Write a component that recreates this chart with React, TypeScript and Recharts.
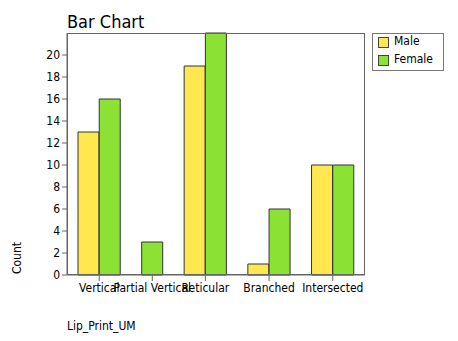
import React from 'react';
import { BarChart, Bar, XAxis, YAxis, Cell } from 'recharts';

const categories = ['Vertical', 'Partial Vertical', 'Reticular', 'Branched', 'Intersected'];
const maleCounts = [13, 0, 19, 1, 10];
const femaleCounts = [16, 3, 22, 6, 10];
const yTicks = [0, 2, 4, 6, 8, 10, 12, 14, 16, 18, 20];

const MALE_COLOR = '#ffe84f';
const FEMALE_COLOR = '#8ce234';
const FONT = '"DejaVu Sans Condensed", "DejaVu Sans", sans-serif';

// plot frame
const PLOT_LEFT = 67;
const PLOT_TOP = 33;
const PLOT_W = 298;
const PLOT_H = 242;
const X_PAD = 11;

type Slot = { key: string; value: number | null; sex: 'Male' | 'Female' | null; label?: string; bars?: number };

// one slot per drawn bar, an empty slot between groups (zero bars are left out, like the original)
const slots: Slot[] = [];
categories.forEach((cat, i) => {
  if (i > 0) slots.push({ key: `gap${i}`, value: null, sex: null });
  const groupBars: Slot[] = [];
  if (maleCounts[i] > 0) groupBars.push({ key: `${cat}-M`, value: maleCounts[i], sex: 'Male' });
  if (femaleCounts[i] > 0) groupBars.push({ key: `${cat}-F`, value: femaleCounts[i], sex: 'Female' });
  groupBars[0].label = cat;
  groupBars[0].bars = groupBars.length;
  slots.push(...groupBars);
});

const labelSlots = slots.filter((s) => s.label).map((s) => s.key);
const slotWidth = (PLOT_W - 2 * X_PAD) / slots.length;

const GroupTick = (props: any) => {
  const { x, y, payload } = props;
  const slot = slots.find((s) => s.key === payload.value);
  if (!slot || !slot.label) return null;
  const cx = slot.bars === 2 ? x + slotWidth / 2 : x;
  return (
    <g>
      <line x1={cx} x2={cx} y1={y} y2={y + 6} stroke="#666" />
      <text
        x={cx}
        y={y + 17}
        textAnchor="middle"
        fontSize={12}
        fontFamily={FONT}
        style={{ fontStretch: 'condensed' }}
        fill="#000"
      >
        {slot.label}
      </text>
    </g>
  );
};

const LegendBox = () => (
  <div
    style={{
      position: 'absolute',
      left: 372,
      top: 33,
      border: '1px solid #777',
      width: 72,
      height: 38,
      boxSizing: 'border-box',
      fontSize: 12,
      padding: '0 0 0 5px',
      background: '#fff',
    }}
  >
    <div style={{ marginTop: -2 }}>
      {[
        { label: 'Male', color: MALE_COLOR },
        { label: 'Female', color: FEMALE_COLOR },
      ].map((item) => (
        <div key={item.label} style={{ display: 'flex', alignItems: 'center', height: 18 }}>
          <span
            style={{
              display: 'inline-block',
              width: 9,
              height: 9,
              background: item.color,
              border: '1px solid #444',
              marginRight: 5,
              marginTop: 3,
            }}
          />
          <span>{item.label}</span>
        </div>
      ))}
    </div>
  </div>
);

const App: React.FC = () => {
  return (
    <div
      style={{
        position: 'absolute',
        left: 0,
        top: 0,
        width: 458,
        height: 341,
        fontFamily: FONT,
        fontStretch: 'condensed',
      }}
    >
      <div style={{ position: 'absolute', left: 67, top: 11, fontSize: 18, color: '#000' }}>Bar Chart</div>
      <div
        style={{
          position: 'absolute',
          left: 17,
          top: 258,
          fontSize: 12,
          transform: 'translate(-50%, -50%) rotate(-90deg)',
          color: '#000',
        }}
      >
        Count
      </div>
      <div style={{ position: 'absolute', left: 67, top: 319, fontSize: 12, color: '#000' }}>Lip_Print_UM</div>
      <BarChart
        width={458}
        height={341}
        data={slots}
        margin={{ top: PLOT_TOP, right: 458 - PLOT_LEFT - PLOT_W, bottom: 0, left: 0 }}
        barCategoryGap={0}
        barGap={0}
      >
        <XAxis
          dataKey="key"
          ticks={labelSlots}
          interval={0}
          height={341 - PLOT_TOP - PLOT_H}
          padding={{ left: X_PAD, right: X_PAD }}
          stroke="#666"
          tickLine={false}
          tickSize={0}
          tickMargin={0}
          tick={<GroupTick />}
        />
        <YAxis
          width={PLOT_LEFT}
          domain={[0, 22]}
          ticks={yTicks}
          interval={0}
          stroke="#666"
          tickSize={5}
          tick={{ fill: '#000', fontSize: 12, fontFamily: FONT }}
        />
        <Bar dataKey="value" stroke="#333" strokeWidth={1} isAnimationActive={false}>
          {slots.map((s) => (
            <Cell key={s.key} fill={s.sex === 'Male' ? MALE_COLOR : FEMALE_COLOR} />
          ))}
        </Bar>
      </BarChart>
      <div
        style={{
          position: 'absolute',
          left: PLOT_LEFT,
          top: PLOT_TOP,
          width: PLOT_W,
          height: PLOT_H,
          border: '1px solid #666',
          boxSizing: 'border-box',
          pointerEvents: 'none',
        }}
      />
      <LegendBox />
    </div>
  );
};

export default App;
